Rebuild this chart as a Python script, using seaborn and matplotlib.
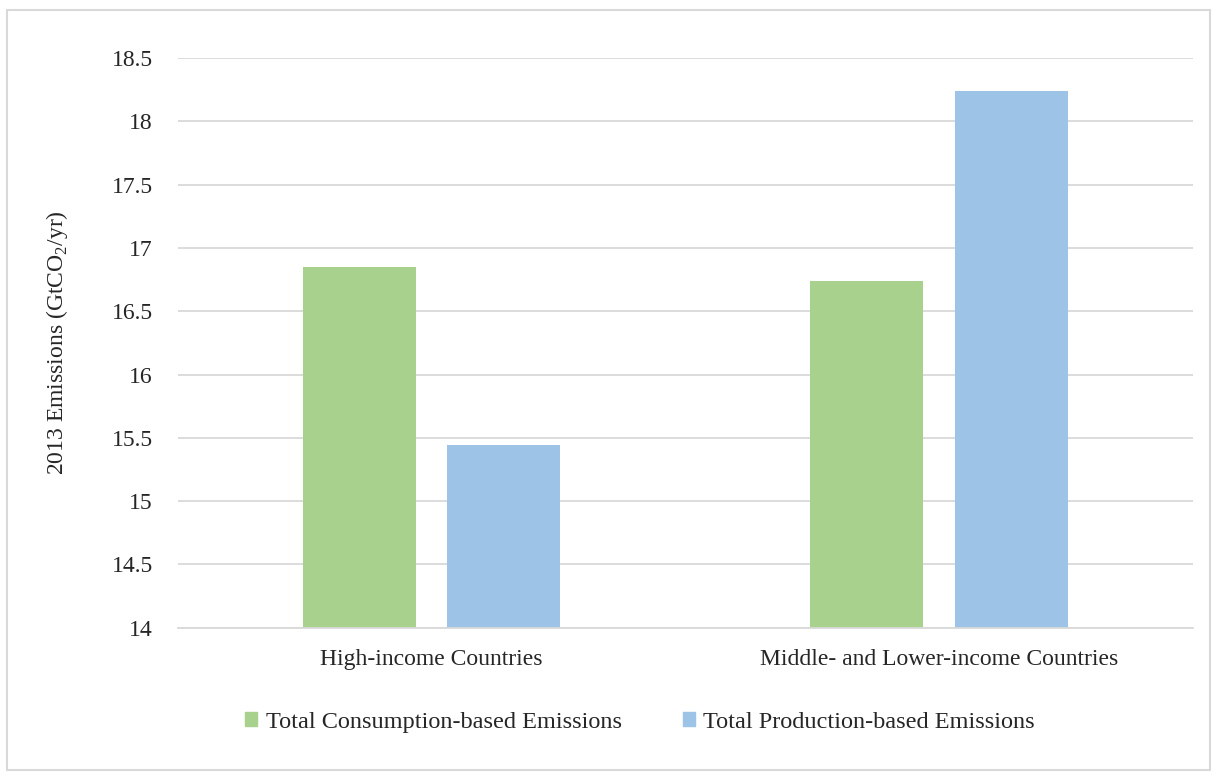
import pandas as pd
import matplotlib.pyplot as plt
import matplotlib.patches as mpatches
import seaborn as sns

# Data
categories = ['High-income Countries', 'Middle- and Lower-income Countries']
series = ['Total Consumption-based Emissions', 'Total Production-based Emissions']
consumption = [16.85, 16.74]
production = [15.44, 18.24]
colors = ['#A9D18E', '#9DC3E6']
y_ticks = [14, 14.5, 15, 15.5, 16, 16.5, 17, 17.5, 18, 18.5]

df = pd.DataFrame({
    'Category': categories * 2,
    'Series': [series[0]] * 2 + [series[1]] * 2,
    'Value': consumption + production,
})

sns.set_style('white')
plt.rcParams['font.family'] = ['Liberation Serif', 'DejaVu Serif']
plt.rcParams['mathtext.fontset'] = 'custom'
plt.rcParams['mathtext.rm'] = 'Liberation Serif'

text_color = '#262626'
fs = 17

fig = plt.figure(figsize=(12.17, 7.75), dpi=100)
ax = fig.add_axes([0.146, 0.19, 0.834, 0.735])

sns.barplot(data=df, x='Category', y='Value', hue='Series', hue_order=series,
            palette=colors, width=0.569, gap=0.218, saturation=1, linewidth=0, ax=ax)

# Axes styling
ax.set_ylim(14, 18.5)
ax.set_yticks(y_ticks)
ax.set_yticklabels([f'{t:g}' for t in y_ticks])
ax.yaxis.grid(True, color='#D9D9D9', linewidth=1.3)
ax.set_axisbelow(True)
for s in ['top', 'right', 'left']:
    ax.spines[s].set_visible(False)
ax.spines['bottom'].set_color('#D9D9D9')
ax.spines['bottom'].set_linewidth(1.3)
ax.tick_params(axis='both', length=0, labelsize=fs, colors=text_color)
ax.tick_params(axis='y', pad=18)
ax.tick_params(axis='x', pad=15)
ax.set_xlabel('')
ax.set_ylabel(r'2013 Emissions (GtCO$_\mathrm{2}$/yr)', fontsize=fs, color=text_color, labelpad=30)

# Legend below the plot
handles = [mpatches.Patch(color=c) for c in colors]
ax.legend(handles, series, loc='center', bbox_to_anchor=(0.526, 0.068), bbox_transform=fig.transFigure,
          ncol=2, frameon=False, fontsize=17.5, handlelength=0.5, handleheight=0.5,
          handletextpad=0.35, columnspacing=2.5, labelcolor=text_color)

# Light frame around the chart
fig.patches.append(mpatches.Rectangle((0.006, 0.006), 0.988, 0.981, transform=fig.transFigure,
                                      fill=False, edgecolor='#D9D9D9', linewidth=1.5))

plt.savefig('out.png', dpi=100)
